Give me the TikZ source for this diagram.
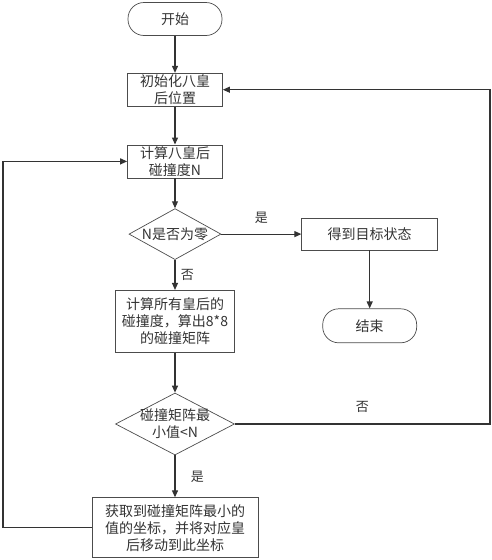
\documentclass[tikz,border=0pt]{standalone}
\usepackage{fontspec}
\newfontfamily\cjk{Noto Sans CJK SC}
\usetikzlibrary{arrows.meta, positioning, shapes.geometric}

\begin{document}
\begin{tikzpicture}[x=1pt, y=-1pt,
        every node/.style = {font=\cjk\fontsize{14}{17}\selectfont, text=black!80},
        proc/.style = {draw=black!70, line width=0.7pt, minimum width=95pt, minimum height=33pt, inner sep=1pt, align=center},
        term/.style = {proc, rounded corners=16pt, minimum width=94pt},
        cond/.style = {draw=black!70, line width=0.7pt, diamond, inner sep=-3pt, align=center},
        arr/.style = {draw=black!80, line width=1.1pt, -{Triangle[length=7pt, width=6pt]}},
        lbl/.style = {font=\cjk\fontsize{13}{15}\selectfont},
      ]
      \useasboundingbox (0,0) rectangle (492,560);
      \node[term] (start) at (175,19) {开始};
      \node[proc, below=37pt of start] (init) {初始化八皇\\后位置};
      \node[proc, below=38pt of init] (calc) {计算八皇后\\碰撞度N};
      \node[cond, below=30pt of calc, aspect=1.8, minimum width=92pt, minimum height=51pt] (iszero) {N是否为零};
      \node[proc, below=30pt of iszero, minimum width=119pt, minimum height=62pt] (all) {计算所有皇后的\\碰撞度，算出8*8\\的碰撞矩阵};
      \node[cond, below=40pt of all, aspect=1.92, minimum width=119pt, minimum height=62pt] (less) {碰撞矩阵最\\小值<N};
      \node[proc, below=42pt of less, minimum width=166pt, minimum height=60pt] (move) {获取到碰撞矩阵最小的\\值的坐标，并将对应皇\\后移动到此坐标};
      \node[proc, right=80pt of iszero, minimum width=136pt, minimum height=32pt] (goal) {得到目标状态};
      \node[term, below=58pt of goal, minimum height=34pt] (end) {结束};
      \coordinate (rt) at (490,0);
      \coordinate (lf) at (3,0);

      \draw[arr] (start) -- (init);
      \draw[arr] (init) -- (calc);
      \draw[arr] (calc) -- (iszero);
      \draw[arr] (iszero) -- node[lbl, above=7pt] {是} (goal);
      \draw[arr] (goal) -- (end);
      \draw[arr] (iszero) -- node[lbl, right=2pt] {否} (all);
      \draw[arr] (all) -- (less);
      \draw[arr] (less) -- node[lbl, right=12pt] {是} (move);
      \draw[arr] (less.east) -- node[lbl, above=8pt] {否} (less.east -| rt) -- (rt |- init.east) -- (init.east);
      \draw[arr] (move.west) -- (move.west -| lf) -- (lf |- calc.west) -- (calc.west);
    \end{tikzpicture}
\end{document}
